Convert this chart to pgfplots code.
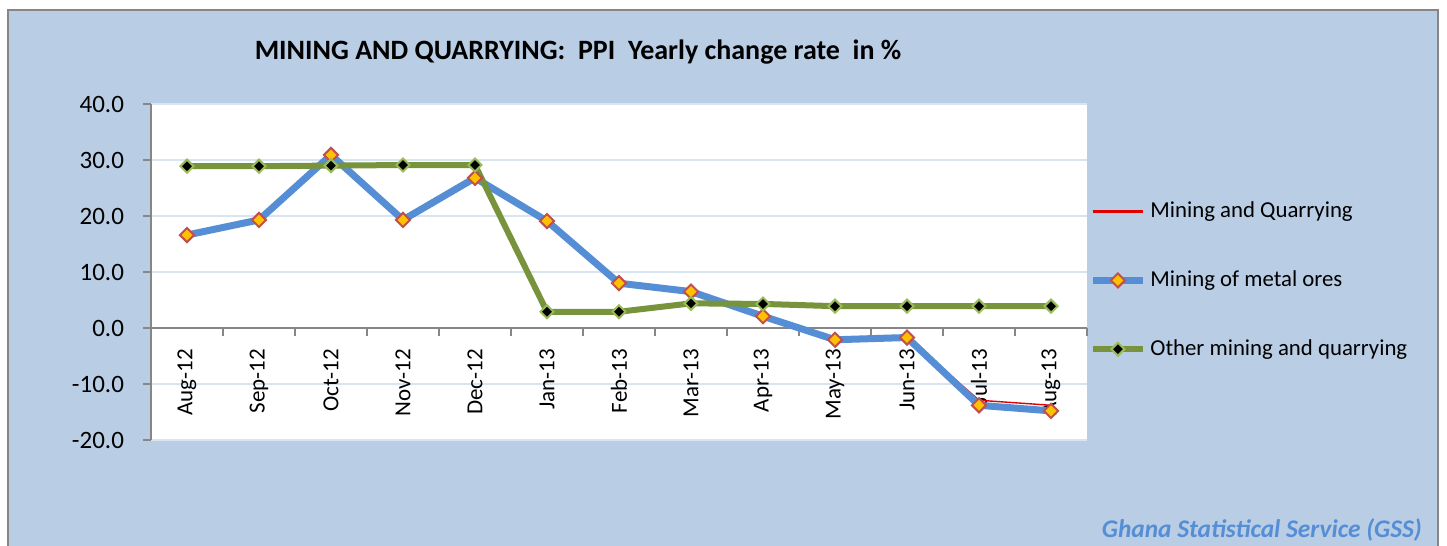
\documentclass[border=0pt]{standalone}
\usepackage{pgfplots}
\pgfplotsset{compat=1.18}
\usepackage{fontspec}
\setmainfont{Carlito}
\definecolor{bgblue}{HTML}{B9CDE5}
\definecolor{serblue}{HTML}{558ED5}
\definecolor{sergreen}{HTML}{77933C}
\definecolor{mkorange}{HTML}{FFC000}
\definecolor{mkred}{HTML}{C0504D}
\definecolor{mkgreen}{HTML}{9BBB59}
\definecolor{gridc}{HTML}{D9E4F1}
\definecolor{axgrey}{HTML}{868686}
\definecolor{mqred}{HTML}{E00000}
\begin{document}
\begin{tikzpicture}
\path[use as bounding box] (0pt,0pt) rectangle (723.5pt,-273pt);
\fill[white] (0pt,0pt) rectangle (723.5pt,-273pt);
\fill[bgblue] (4pt,-5pt) rectangle (719pt,-290pt);
\draw[axgrey,line width=0.6pt] (4pt,-290pt) -- (4pt,-5pt) -- (719pt,-5pt) -- (719pt,-290pt);
\node[font=\fontsize{14}{16}\selectfont\bfseries] at (289pt,-26pt) {MINING AND QUARRYING:\ \ PPI\ \ Yearly change rate\ \ in \%};
\node[font=\fontsize{12.7}{14}\selectfont\bfseries\itshape, text=serblue, anchor=east] at (714.5pt,-265pt) {Ghana Statistical Service (GSS)};
\begin{axis}[
  at={(75.5pt,-220pt)}, anchor=south west,
  scale only axis, width=468pt, height=168pt,
  xmin=-0.5, xmax=12.5, ymin=-20, ymax=40,
  axis x line=middle, axis y line=left,
  axis line style={-, axgrey, line width=0.8pt},
  axis background/.style={fill=white},
  xtick={0,...,12},
  xticklabels={Aug-12,Sep-12,Oct-12,Nov-12,Dec-12,Jan-13,Feb-13,Mar-13,Apr-13,May-13,Jun-13,Jul-13,Aug-13},
  major x tick style={draw=none},
  minor xtick={-0.5,0.5,...,12.5},
  minor x tick style={axgrey, line width=0.8pt},
  minor tick length=4pt,
  major tick length=4pt,
  tick align=outside,
  xticklabel style={rotate=90, anchor=east, font=\fontsize{11.5}{13}\selectfont},
  xticklabel shift=3pt,
  ytick={-20,-10,...,40},
  yticklabels={-20.0,-10.0,0.0,10.0,20.0,30.0,40.0},
  yticklabel style={font=\fontsize{12.5}{14}\selectfont},
  y tick style={axgrey, line width=0.8pt},
  yticklabel shift=6pt,
  ymajorgrids, major grid style={gridc, line width=0.8pt},
  legend style={at={(1,0.475)}, anchor=west, xshift=-2pt, draw=none, fill=none,
    font=\fontsize{11.4}{13}\selectfont, row sep=21pt},
  legend cell align=left,
  legend image code/.code={\draw[mark repeat=2,mark phase=2,#1] plot coordinates {(0pt,0pt) (12.5pt,0pt) (25pt,0pt)};},
]
\addplot[mqred, line width=0.7pt, mark=none,
  legend image code/.code={\draw[draw=mqred, line width=1.1pt] (0pt,0pt) -- (25pt,0pt);}] coordinates {
(0,16.6) (1,19.3) (2,30.9) (3,19.3) (4,26.8) (5,18.6) (6,7.9) (7,6.5) (8,2.1) (9,-2.1) (10,-1.7) (11,-12.9) (12,-13.8)};
\addlegendentry{Mining and Quarrying}
\addplot[serblue, line width=3.5pt, mark=square*, mark size=2.5pt,
  mark options={solid, rotate=45, fill=mkorange, draw=mkred, line width=1pt}] coordinates {
(0,16.6) (1,19.3) (2,30.9) (3,19.3) (4,26.8) (5,19.1) (6,8.0) (7,6.5) (8,2.1) (9,-2.1) (10,-1.7) (11,-13.8) (12,-14.8)};
\addlegendentry{Mining of metal ores}
\addplot[sergreen, line width=3pt, mark=square*, mark size=2.3pt,
  mark options={solid, rotate=45, fill=black, draw=mkgreen, line width=1pt}] coordinates {
(0,28.9) (1,28.9) (2,29.0) (3,29.1) (4,29.1) (5,2.9) (6,2.9) (7,4.4) (8,4.3) (9,3.9) (10,3.9) (11,3.9) (12,3.9)};
\addlegendentry{Other mining and quarrying}
\end{axis}
\end{tikzpicture}
\end{document}
